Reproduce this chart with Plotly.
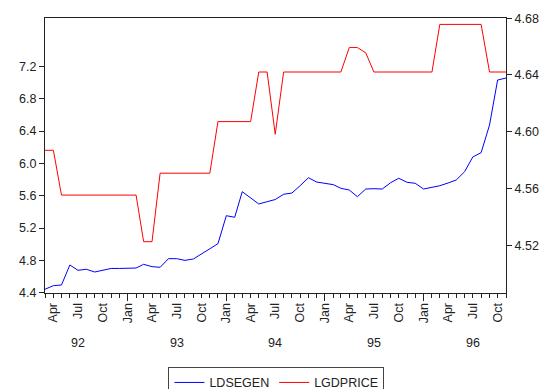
import pandas as pd
import plotly.graph_objects as go

# Monthly observations, 1992M03 - 1996M11
months = pd.date_range("1992-03-01", periods=57, freq="MS")

ldsegen = [
    4.442, 4.487, 4.495, 4.743, 4.677, 4.690, 4.656, 4.677, 4.700, 4.700,
    4.700, 4.705, 4.751, 4.722, 4.714, 4.821, 4.821, 4.800, 4.817, 4.879,
    4.953, 5.006, 5.353, 5.333, 5.650, 5.574, 5.498, 5.526, 5.553, 5.618,
    5.634, 5.724, 5.823, 5.770, 5.758, 5.737, 5.692, 5.671, 5.588, 5.683,
    5.687, 5.683, 5.761, 5.816, 5.766, 5.754, 5.683, 5.704, 5.724, 5.758,
    5.795, 5.898, 6.079, 6.133, 6.475, 7.032, 7.057,
]

lgdprice = [
    4.587, 4.587, 4.5555, 4.5555, 4.5555, 4.5555, 4.5555, 4.5555, 4.5555, 4.5555,
    4.5555, 4.5555, 4.5227, 4.5227, 4.5709, 4.5709, 4.5709, 4.5709, 4.5709, 4.5709,
    4.5709, 4.6072, 4.6072, 4.6072, 4.6072, 4.6072, 4.6421, 4.6421, 4.5983, 4.6421,
    4.6421, 4.6421, 4.6421, 4.6421, 4.6421, 4.6421, 4.6421, 4.6593, 4.6593, 4.6556,
    4.6421, 4.6421, 4.6421, 4.6421, 4.6421, 4.6421, 4.6421, 4.6421, 4.6756, 4.6756,
    4.6756, 4.6756, 4.6756, 4.6756, 4.6421, 4.6421, 4.6421,
]

# Quarterly month labels on the time axis
quarter_ticks = pd.date_range("1992-04-01", "1996-10-01", freq="QS-JAN")
quarter_labels = [d.strftime("%b") for d in quarter_ticks]
year_starts = pd.date_range("1993-01-01", "1996-01-01", freq="YS")
year_labels = ["92", "93", "94", "95", "96"]
year_centres = ["1992-07-01", "1993-07-01", "1994-07-01", "1995-07-01", "1996-07-01"]

left_ticks = [4.4, 4.8, 5.2, 5.6, 6.0, 6.4, 6.8, 7.2]
right_ticks = [4.52, 4.56, 4.60, 4.64, 4.68]

FONT = "Liberation Sans, Arial, sans-serif"
TXT = "#222222"
x_range = ["1992-03-01", "1996-11-01"]

fig = go.Figure()
fig.add_trace(go.Scatter(
    x=months, y=ldsegen, name="LDSEGEN", mode="lines",
    line=dict(color="#0000FF", width=1), xaxis="x", yaxis="y",
))
fig.add_trace(go.Scatter(
    x=months, y=lgdprice, name="LGDPRICE", mode="lines",
    line=dict(color="#FF0000", width=1), xaxis="x2", yaxis="y2",
))

for i, lab in enumerate(year_labels):
    fig.add_annotation(
        x=year_centres[i], y=-0.181, xref="x", yref="paper",
        text=lab, showarrow=False, font=dict(size=12.5, color=TXT, family=FONT),
        xanchor="center", yanchor="middle",
    )

fig.update_layout(
    width=547, height=389,
    margin=dict(l=45, r=41, t=18, b=96, autoexpand=False),
    paper_bgcolor="white", plot_bgcolor="white",
    font=dict(family=FONT, size=12.5, color=TXT),
    showlegend=True,
    legend=dict(
        orientation="h", x=0.502, xanchor="center",
        yref="container", y=0.057, yanchor="top",
        bordercolor="#444444", borderwidth=1, font=dict(size=12.5, color=TXT),
        itemwidth=30, tracegroupgap=0,
    ),
    xaxis=dict(
        type="date", range=x_range,
        tickmode="array", tickvals=list(quarter_ticks), ticktext=quarter_labels,
        tickangle=-90, ticks="outside", ticklen=4, tickcolor="#222",
        showline=True, linecolor="#222", linewidth=1, mirror=True,
        showgrid=False, zeroline=False,
        minor=dict(dtick="M1", tick0="1992-01-01", ticks="outside", ticklen=4,
                   tickcolor="#222", showgrid=False),
    ),
    xaxis2=dict(
        type="date", matches="x", overlaying="x", anchor="y2", side="bottom",
        tickmode="array", tickvals=list(year_starts), showticklabels=False,
        ticks="outside", ticklen=7, tickcolor="#222",
        showline=False, showgrid=False, zeroline=False,
    ),
    yaxis=dict(
        range=[4.396, 7.8], tickmode="array", tickvals=left_ticks,
        tickformat=".1f", ticks="outside", ticklen=5, tickcolor="#222",
        showline=True, linecolor="#222", linewidth=1, mirror=True,
        showgrid=False, zeroline=False,
    ),
    yaxis2=dict(
        range=[4.4866, 4.6801], overlaying="y", side="right", anchor="x",
        tickmode="array", tickvals=right_ticks, tickformat=".2f",
        ticks="outside", ticklen=5, tickcolor="#222",
        showline=True, linecolor="#222", linewidth=1,
        showgrid=False, zeroline=False,
    ),
)

fig.write_html("out.html")
